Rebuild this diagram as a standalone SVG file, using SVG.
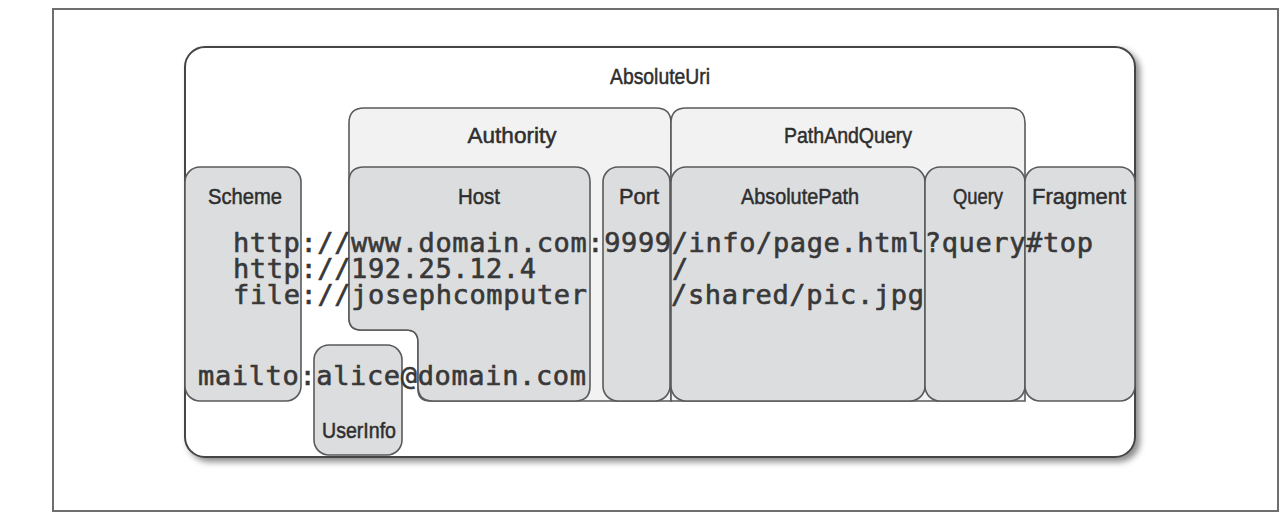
<svg xmlns="http://www.w3.org/2000/svg" width="1283" height="518" viewBox="0 0 1283 518">
<defs>
<filter id="sh" x="-5%" y="-5%" width="115%" height="120%">
<feDropShadow dx="4" dy="4" stdDeviation="3" flood-color="#000" flood-opacity="0.45"/>
</filter>
<style>
.frame{fill:#fff;stroke:#6e6e6e;stroke-width:2}
.main{fill:#fff;stroke:#454545;stroke-width:2}
.grp{fill:#f2f2f2;stroke:#5a5a5a;stroke-width:1.6}
.part{fill:#dcdddf;stroke:#5a5a5a;stroke-width:1.6}
.lbl{font-family:"Liberation Sans Narrow","Liberation Sans",Arial,sans-serif;font-size:22px;fill:#2e2e2e;stroke:#2e2e2e;stroke-width:0.5;text-anchor:middle}
.mono{font-family:"DejaVu Sans Mono","Liberation Mono",monospace;font-size:27px;fill:#383838;stroke:#383838;stroke-width:0.6}
</style>
</defs>
<rect class="frame" x="53" y="9" width="1225" height="502"/>
<g id="absoluteuri">
<rect class="main" x="185" y="47" width="950" height="410" rx="20" filter="url(#sh)"/>
<text class="lbl" x="660" y="84" textLength="100" lengthAdjust="spacingAndGlyphs">AbsoluteUri</text>
</g>
<g id="authority">
<path class="grp" d="M349,123 Q349,108 364,108 L656,108 Q671,108 671,123 L671,401 L430,401 Q418,401 418,389 L418,342 Q418,330 406,330 L361,330 Q349,330 349,318 Z"/>
<text class="lbl" x="512" y="143" textLength="89" lengthAdjust="spacingAndGlyphs">Authority</text>
</g>
<g id="pathandquery">
<path class="grp" d="M671,123 Q671,108 686,108 L1010,108 Q1025,108 1025,123 L1025,401 L671,401 Z"/>
<text class="lbl" x="848" y="143" textLength="128" lengthAdjust="spacingAndGlyphs">PathAndQuery</text>
</g>
<g id="scheme">
<rect class="part" x="185" y="167" width="116" height="234" rx="15"/>
<text class="lbl" x="245" y="204" textLength="74" lengthAdjust="spacingAndGlyphs">Scheme</text>
</g>
<g id="host">
<path class="part" d="M349,182 Q349,167 364,167 L575,167 Q590,167 590,182 L590,386 Q590,401 575,401 L433,401 Q418,401 418,386 L418,342 Q418,330 406,330 L361,330 Q349,330 349,318 Z"/>
<text class="lbl" x="479" y="204" textLength="42" lengthAdjust="spacingAndGlyphs">Host</text>
</g>
<g id="port">
<rect class="part" x="603" y="167" width="67" height="234" rx="15"/>
<text class="lbl" x="639" y="204" textLength="40" lengthAdjust="spacingAndGlyphs">Port</text>
</g>
<g id="absolutepath">
<rect class="part" x="671" y="167" width="254" height="234" rx="15"/>
<text class="lbl" x="800" y="204" textLength="118" lengthAdjust="spacingAndGlyphs">AbsolutePath</text>
</g>
<g id="query">
<rect class="part" x="925" y="167" width="100" height="234" rx="15"/>
<text class="lbl" x="978" y="204" textLength="50" lengthAdjust="spacingAndGlyphs">Query</text>
</g>
<g id="fragment">
<rect class="part" x="1025" y="167" width="110" height="234" rx="15"/>
<text class="lbl" x="1079" y="204" textLength="94" lengthAdjust="spacingAndGlyphs">Fragment</text>
</g>
<g id="userinfo">
<rect class="part" x="314" y="345" width="88" height="110" rx="15"/>
<text class="lbl" x="359" y="438" textLength="74" lengthAdjust="spacingAndGlyphs">UserInfo</text>
</g>
<g id="connectors"></g>
<g id="examples">
<text class="mono" x="233" y="252" textLength="860" lengthAdjust="spacing">http://www.domain.com:9999/info/page.html?query#top</text>
<text class="mono" x="233" y="278" textLength="303" lengthAdjust="spacing">http://192.25.12.4</text>
<text class="mono" x="672" y="278">/</text>
<text class="mono" x="233" y="304" textLength="354" lengthAdjust="spacing">file://josephcomputer</text>
<text class="mono" x="671" y="304" textLength="253" lengthAdjust="spacing">/shared/pic.jpg</text>
<text class="mono" x="198" y="385" textLength="388" lengthAdjust="spacing">mailto:alice@domain.com</text>
</g>
</svg>
